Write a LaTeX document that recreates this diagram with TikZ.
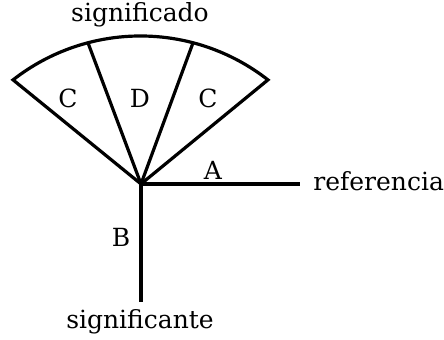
\documentclass[tikz,border=0pt]{standalone}
\usepackage{fontspec}
\setmainfont{DejaVu Serif}
\usetikzlibrary{calc}
\tikzset{
  trazo/.style={line width=1.6pt,line join=miter},
  rotulo/.style={font=\fontsize{12.5}{14}\selectfont,inner sep=1pt},
}

\begin{document}
\begin{tikzpicture}[x=0.5pt,y=0.5pt]
  \useasboundingbox (0,0) rectangle (444,340);
  % vertex, arc centre and ends of the fan
  \coordinate (O) at (141,156);
  \coordinate (M) at (140.5,97);
  \coordinate (L) at ($(M)+(128:207)$);
  \coordinate (R) at ($(M)+(52:207)$);
  \coordinate (P) at ($(M)+(104.7:207)$);
  \coordinate (Q) at ($(M)+(75.3:207)$);
  \coordinate (finA) at (300,156);
  \coordinate (finB) at (141,38);

  \node[rotulo] (sdo) at (140,325) {significado};
  \node[rotulo,anchor=west] (ref) at (311,159) {referencia};
  \node[rotulo] (ste) at (140,18) {significante};

  \draw[trazo] (O) -- (L) arc[start angle=128,end angle=52,radius=207] -- cycle;
  \draw[trazo] (O) -- (P);
  \draw[trazo] (O) -- (Q);
  \draw[trazo] (O) -- (finA);
  \draw[trazo] (O) -- (finB);

  \node[rotulo] (a) at (213,170) {A};
  \node[rotulo] (b) at (121,103) {B};
  \node[rotulo] (c1) at (68,242) {C};
  \node[rotulo] (d) at (140,242) {D};
  \node[rotulo] (c2) at (208,242) {C};
\end{tikzpicture}
\end{document}
